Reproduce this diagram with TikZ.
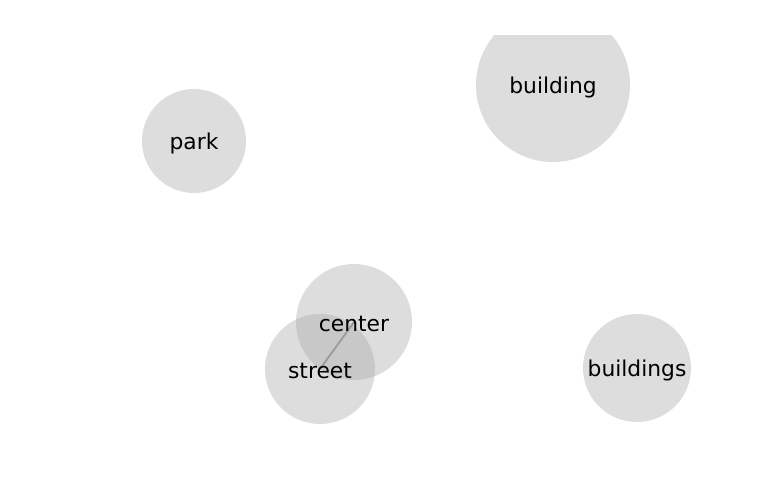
\documentclass[tikz,border=0pt]{standalone}
\usepackage{fontspec}
\setmainfont{DejaVu Sans}
\begin{document}
\begin{tikzpicture}[x=1pt,y=-1pt,
  blob/.style={circle,fill=blobgray,fill opacity=0.4,inner sep=0pt,minimum size=#1},
  lbl/.style={inner sep=0pt,yshift=-2pt,font=\fontsize{21.8}{26}\selectfont},
  link/.style={draw=gray,line width=1.8pt}]
\definecolor{blobgray}{HTML}{AAAAAA}
\useasboundingbox (0,0) rectangle (768,500);
\fill[white] (0,0) rectangle (768,500);
\coordinate (cc) at (354,322);
\coordinate (sc) at (320,369);
\draw[link] (cc) -- (sc);
\begin{scope}
\clip (0,36) rectangle (768,500);
\node[blob=154pt] (building) at (553,85) {};
\end{scope}
\node[blob=104pt] (park) at (194,141) {};
\node[blob=116pt] (center) at (cc) {};
\node[blob=110pt] (street) at (sc) {};
\node[blob=108pt] (buildings) at (637,368) {};
\node[lbl] (lbuilding) at (building.center) {building};
\node[lbl] (lpark) at (park.center) {park};
\node[lbl] (lcenter) at (center.center) {center};
\node[lbl] (lstreet) at (street.center) {street};
\node[lbl] (lbuildings) at (buildings.center) {buildings};
\end{tikzpicture}
\end{document}
